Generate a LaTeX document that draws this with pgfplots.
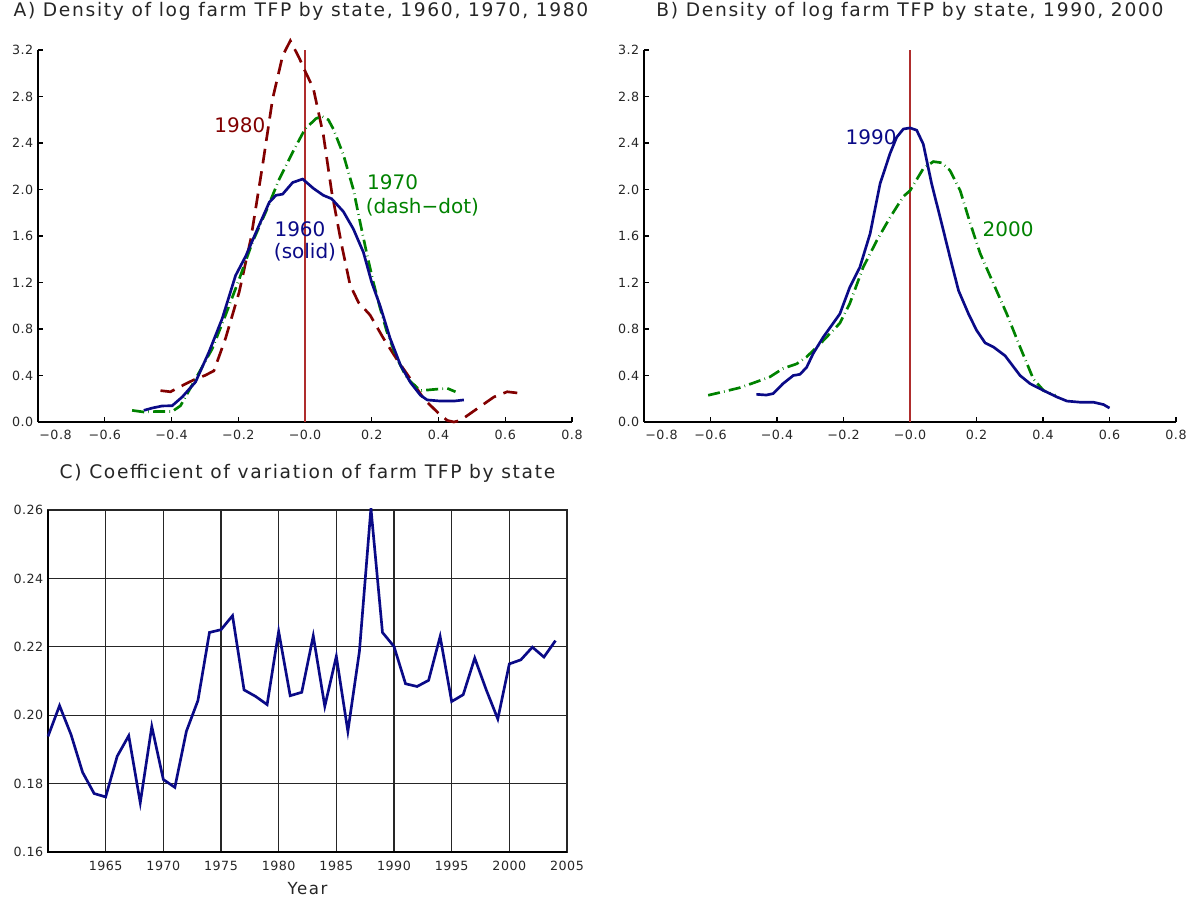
\documentclass[border=0pt]{standalone}
\usepackage{fontspec}
\setmainfont{DejaVu Sans}
\newfontfamily\spaced[LetterSpace=9]{DejaVu Sans}
\newfontfamily\ticks[LetterSpace=4]{DejaVu Sans}
\usepackage{pgfplots}
\pgfplotsset{compat=1.18}
\definecolor{navyc}{RGB}{10,10,135}
\definecolor{greenc}{RGB}{0,130,0}
\definecolor{darkredc}{RGB}{130,0,0}
\definecolor{vline}{RGB}{175,45,45}
\tikzset{annot/.style={font=\fontsize{15}{17}\selectfont}}
\pgfplotsset{
  densax/.style={
    anchor=south west, scale only axis,
    xmin=-0.8, xmax=0.8, ymin=0, ymax=3.2,
    axis lines*=left, axis line style={line width=2.2pt},
    tick align=inside, major tick length=4pt,
    tick style={black, line width=0.9pt},
    xtick={-0.8,-0.6,-0.4,-0.2,0,0.2,0.4,0.6,0.8},
    xticklabels={\makebox[0pt][l]{\hspace{1pt}−0.8},−0.6,−0.4,−0.2,−0.0,0.2,0.4,0.6,0.8},
    ytick={0,0.4,0.8,1.2,1.6,2.0,2.4,2.8,3.2},
    yticklabels={0.0,0.4,0.8,1.2,1.6,2.0,2.4,2.8,3.2},
    tick label style={font=\ticks\fontsize{9.5}{10}\selectfont, color=black!85},
    xticklabel style={yshift=-2.25pt},
    title style={font=\spaced\fontsize{14}{16}\selectfont, at={(0.5,1)}, anchor=center, yshift=23.25pt, color=black!85},
    clip=false,
  },
  solidl/.style={navyc, line width=2pt},
  dashdotl/.style={greenc, line width=2pt, dash pattern=on 9pt off 3.2pt on 0.5pt off 3.2pt},
  dashl/.style={darkredc, line width=2pt, dash pattern=on 11pt off 6pt},
  zeroline/.style={vline, line width=0.9pt},
}
\begin{document}
\begin{tikzpicture}
\path[use as bounding box] (0,0) rectangle (891pt,675.75pt);
% ---------------- Panel A
\begin{axis}[densax, at={(28.5pt,359.25pt)}, width=400.5pt, height=279pt,
  title={A) Density of log farm TFP by state, 1960, 1970, 1980}, title style={xshift=-3pt}]
\addplot[zeroline] coordinates {(0,0) (0,3.2)};
\addplot[dashl] coordinates {
(-0.433,0.27) (-0.403,0.26) (-0.363,0.32) (-0.328,0.37) (-0.300,0.40) (-0.273,0.44)
(-0.238,0.72) (-0.197,1.12) (-0.162,1.58) (-0.127,2.21) (-0.097,2.78) (-0.067,3.15)
(-0.044,3.28) (-0.017,3.13) (0,3.02) (0.025,2.87) (0.055,2.47) (0.08,1.98) (0.11,1.52)
(0.135,1.18) (0.16,1.03) (0.195,0.92) (0.235,0.72) (0.275,0.54) (0.316,0.37) (0.356,0.20)
(0.396,0.086) (0.426,0.014) (0.446,0.0) (0.466,0.014) (0.516,0.115) (0.566,0.215)
(0.606,0.26) (0.636,0.25)};
\addplot[dashdotl] coordinates {
(-0.518,0.10) (-0.483,0.086) (-0.448,0.09) (-0.398,0.09) (-0.373,0.14) (-0.328,0.37)
(-0.278,0.63) (-0.238,0.92) (-0.197,1.23) (-0.157,1.55) (-0.117,1.81) (-0.077,2.09)
(-0.037,2.32) (0,2.52) (0.033,2.61) (0.05,2.63) (0.07,2.60) (0.085,2.52) (0.115,2.30)
(0.145,2.00) (0.165,1.72) (0.185,1.45) (0.205,1.20) (0.225,0.98) (0.245,0.78)
(0.275,0.55) (0.305,0.38) (0.33,0.31) (0.346,0.27) (0.386,0.28) (0.426,0.29) (0.451,0.26)};
\addplot[solidl] coordinates {
(-0.483,0.10) (-0.458,0.12) (-0.428,0.138) (-0.398,0.14) (-0.368,0.215) (-0.328,0.344)
(-0.288,0.60) (-0.248,0.89) (-0.208,1.26) (-0.177,1.43) (-0.147,1.63) (-0.107,1.89)
(-0.087,1.95) (-0.067,1.96) (-0.037,2.06) (-0.007,2.09) (0.025,2.01) (0.055,1.95)
(0.08,1.92) (0.115,1.81) (0.145,1.66) (0.175,1.46) (0.2,1.20) (0.225,1.00) (0.255,0.72)
(0.286,0.49) (0.316,0.34) (0.346,0.23) (0.366,0.19) (0.406,0.18) (0.446,0.18) (0.476,0.19)};
\node[annot, darkredc] at (axis cs:-0.195,2.55) {1980};
\node[annot, greenc, anchor=west] at (axis cs:0.172,2.06) {1970};
\node[annot, greenc, anchor=west] at (axis cs:0.168,1.85) {(dash−dot)};
\node[annot, navyc] at (axis cs:-0.015,1.66) {1960};
\node[annot, navyc] at (axis cs:0.0,1.46) {(solid)};
\end{axis}
% ---------------- Panel B
\begin{axis}[densax, at={(483pt,359.25pt)}, width=399pt, height=279pt,
  title={B) Density of log farm TFP by state, 1990, 2000}]
\addplot[zeroline] coordinates {(0,0) (0,3.2)};
\addplot[dashdotl] coordinates {
(-0.607,0.23) (-0.562,0.26) (-0.512,0.295) (-0.472,0.335) (-0.422,0.387) (-0.382,0.46)
(-0.341,0.50) (-0.311,0.56) (-0.271,0.67) (-0.211,0.85) (-0.181,1.02) (-0.141,1.33)
(-0.100,1.56) (-0.060,1.76) (-0.020,1.94) (0,1.99) (0.04,2.18) (0.07,2.24) (0.095,2.23)
(0.12,2.165) (0.151,1.99) (0.181,1.71) (0.211,1.45) (0.251,1.19) (0.291,0.93)
(0.331,0.645) (0.371,0.37) (0.402,0.27) (0.437,0.23)};
\addplot[solidl] coordinates {
(-0.462,0.238) (-0.432,0.232) (-0.412,0.244) (-0.382,0.33) (-0.351,0.40) (-0.331,0.41)
(-0.311,0.47) (-0.291,0.59) (-0.261,0.73) (-0.211,0.93) (-0.181,1.16) (-0.151,1.33)
(-0.120,1.62) (-0.090,2.05) (-0.060,2.31) (-0.040,2.45) (-0.020,2.52) (0,2.53) (0.02,2.51)
(0.04,2.39) (0.065,2.05) (0.095,1.71) (0.12,1.42) (0.146,1.13) (0.176,0.93) (0.2,0.79)
(0.226,0.68) (0.251,0.645) (0.286,0.57) (0.331,0.40) (0.361,0.33) (0.402,0.27)
(0.442,0.215) (0.472,0.18) (0.512,0.17) (0.552,0.17) (0.582,0.15) (0.6,0.12)};
\node[annot, navyc] at (axis cs:-0.117,2.45) {1990};
\node[annot, greenc] at (axis cs:0.295,1.66) {2000};
\end{axis}
% ---------------- Panel C
\begin{axis}[at={(36pt,36.75pt)}, anchor=south west, scale only axis,
  width=389.25pt, height=256.5pt,
  xmin=1960, xmax=2005, ymin=0.16, ymax=0.26,
  xtick={1960,1965,1970,1975,1980,1985,1990,1995,2000,2005},
  xticklabels={,1965,1970,1975,1980,1985,1990,1995,2000,2005},
  ytick={0.16,0.18,0.20,0.22,0.24,0.26},
  yticklabels={0.16,0.18,0.20,0.22,0.24,0.26},
  grid=major, major grid style={black!85, line width=0.9pt},
  axis line style={line width=1.4pt, black!85},
  major tick length=0pt,
  tick label style={font=\ticks\fontsize{9.5}{10}\selectfont, color=black!85},
  xticklabel style={yshift=-3.5pt},
  xlabel={Year}, xlabel style={font=\spaced\fontsize{12.5}{14}\selectfont, at={(0.5,0)}, anchor=center, yshift=-27.75pt, color=black!85},
  title={C) Coefficient of variation of farm TFP by state},
  title style={font=\spaced\fontsize{14}{16}\selectfont, at={(0.5,1)}, anchor=center, yshift=21.75pt, color=black!85},
  clip=false,
]
\draw[line width=2.2pt, black] (rel axis cs:0,1) -- (rel axis cs:0,0) -- (rel axis cs:1,0);
\addplot[navyc, line width=2pt] coordinates {
(1960,0.1938) (1961,0.2028) (1962,0.1943) (1963,0.1833) (1964,0.1771) (1965,0.1761)
(1966,0.1880) (1967,0.1940) (1968,0.1744) (1969,0.1967) (1970,0.1812) (1971,0.1789)
(1972,0.1953) (1973,0.2043) (1974,0.2242) (1975,0.2250) (1976,0.2291) (1977,0.2074)
(1978,0.2055) (1979,0.2031) (1980,0.2245) (1981,0.2057) (1982,0.2067) (1983,0.2232)
(1984,0.2026) (1985,0.2172) (1986,0.1953) (1987,0.2186) (1988,0.2605) (1989,0.2242)
(1990,0.2201) (1991,0.2092) (1992,0.2084) (1993,0.2102) (1994,0.2230) (1995,0.2040)
(1996,0.2060) (1997,0.2167) (1998,0.2074) (1999,0.1989) (2000,0.2150) (2001,0.2162)
(2002,0.2199) (2003,0.2170) (2004,0.2218)};
\end{axis}
\end{tikzpicture}
\end{document}
